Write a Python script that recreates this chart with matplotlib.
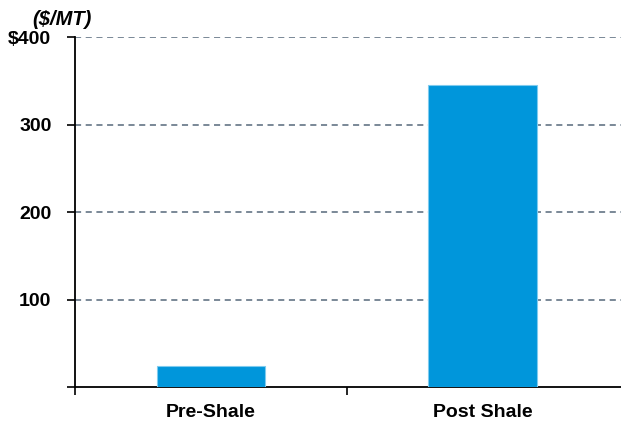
import matplotlib
matplotlib.use("Agg")
import matplotlib.pyplot as plt

categories = ["Pre-Shale", "Post Shale"]
values = [24, 345]
y_ticks = [0, 100, 200, 300, 400]
y_labels = ["", "100", "200", "300", "$400"]

plt.rcParams["font.family"] = ["Liberation Sans", "DejaVu Sans"]

fig = plt.figure(figsize=(6.21, 4.23), dpi=100)
ax = fig.add_axes([0.1208, 0.0851, 0.8792, 0.8274])

x = list(range(len(categories)))
ax.bar(x, values, width=0.40, color="#0096DB", edgecolor="#7FCBEE",
       linewidth=0.8, zorder=3)

ax.set_xlim(-0.5, 1.5 + 0.01)
ax.set_ylim(0, 400)

ax.set_yticks(y_ticks)
ax.set_yticklabels(y_labels, fontsize=14, fontweight="bold")
ax.tick_params(axis="y", direction="out", length=6, width=1.2, pad=11)

ax.set_xticks(x)
ax.set_xticklabels(categories, fontsize=14, fontweight="bold")
ax.tick_params(axis="x", which="major", length=0, pad=12)
ax.set_xticks([-0.5, 0.5], minor=True)
ax.tick_params(axis="x", which="minor", direction="out", length=6, width=1.2)

for yv in y_ticks[1:]:
    ax.axhline(yv, color="#56687A", linestyle=(0, (4, 3)), linewidth=1.1,
               zorder=1)

for side in ["top", "right"]:
    ax.spines[side].set_visible(False)
ax.spines["left"].set_linewidth(1.3)
ax.spines["bottom"].set_linewidth(1.3)

fig.text(0.052, 0.932, "($/MT)", fontsize=14.5, fontweight="bold",
         fontstyle="italic", ha="left", va="bottom")

fig.savefig("out.png", dpi=100)
